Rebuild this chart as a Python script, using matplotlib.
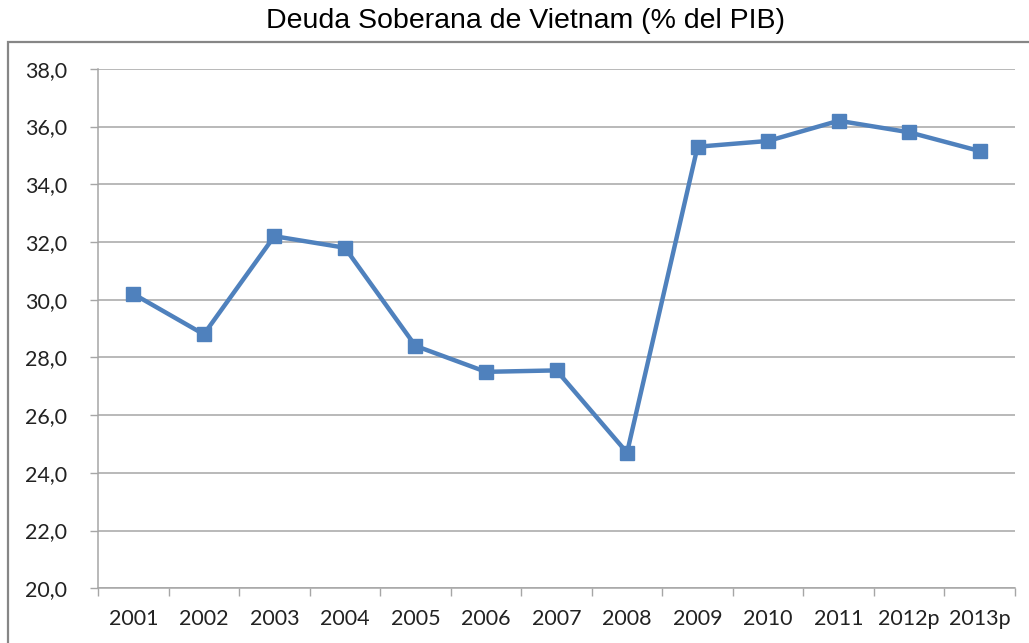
import matplotlib
matplotlib.use("Agg")
import matplotlib.pyplot as plt
from matplotlib.patches import Rectangle
from matplotlib.ticker import FixedLocator, NullFormatter, FuncFormatter

years = ["2001", "2002", "2003", "2004", "2005", "2006", "2007",
         "2008", "2009", "2010", "2011", "2012p", "2013p"]
debt = [30.2, 28.8, 32.2, 31.8, 28.4, 27.5, 27.55, 24.7, 35.3, 35.5, 36.2, 35.8, 35.15]
yticks = [20, 22, 24, 26, 28, 30, 32, 34, 36, 38]

W, H = 1029, 643
fig = plt.figure(figsize=(W / 100, H / 100), dpi=100)

# outer chart border (top and left visible)
fig.add_artist(Rectangle((8 / W, -0.1), 1.2, 1 - 42.5 / H + 0.1, transform=fig.transFigure,
                         fill=False, edgecolor="#868686", linewidth=1.6))

fig.text(525 / W, 1 - 21 / H, "Deuda Soberana de Vietnam (% del PIB)",
         ha="center", va="center", fontsize=20.5,
         family=["Liberation Sans Narrow", "Liberation Sans", "DejaVu Sans"], color="black")

ax = fig.add_axes([98 / W, 1 - 588.3 / H, (1015 - 98) / W, (588.3 - 68.8) / H])
x = list(range(len(years)))
ax.plot(x, debt, color="#4F81BD", linewidth=3.2, marker="s", markersize=10,
        markerfacecolor="#4F81BD", markeredgecolor="#4F81BD", zorder=3)

ax.set_xlim(-0.5, len(years) - 0.5)
ax.set_ylim(20, 38)
ax.set_yticks(yticks)
ax.yaxis.set_major_formatter(FuncFormatter(lambda v, p: f"{v:.1f}".replace(".", ",")))
ax.grid(axis="y", color="#A6A6A6", linewidth=1.1)
ax.set_axisbelow(True)

ax.xaxis.set_major_locator(FixedLocator([i - 0.5 for i in range(len(years) + 1)]))
ax.xaxis.set_major_formatter(NullFormatter())
ax.xaxis.set_minor_locator(FixedLocator(x))
ax.set_xticklabels(years, minor=True)
ax.tick_params(axis="x", which="major", direction="out", length=6, width=1, color="#A6A6A6")
ax.tick_params(axis="x", which="minor", length=0, pad=15)
ax.tick_params(axis="y", direction="out", length=6, width=1, color="#A6A6A6", pad=16)

for lbl in ax.get_xticklabels(minor=True) + ax.get_yticklabels():
    lbl.set_fontfamily(["Lato", "DejaVu Sans"])
    lbl.set_fontsize(15.5)
    lbl.set_color("#222222")

for s in ["top", "right"]:
    ax.spines[s].set_visible(False)
for s in ["left", "bottom"]:
    ax.spines[s].set_color("#A6A6A6")
    ax.spines[s].set_linewidth(1.1)

fig.savefig("out.png", dpi=100)
